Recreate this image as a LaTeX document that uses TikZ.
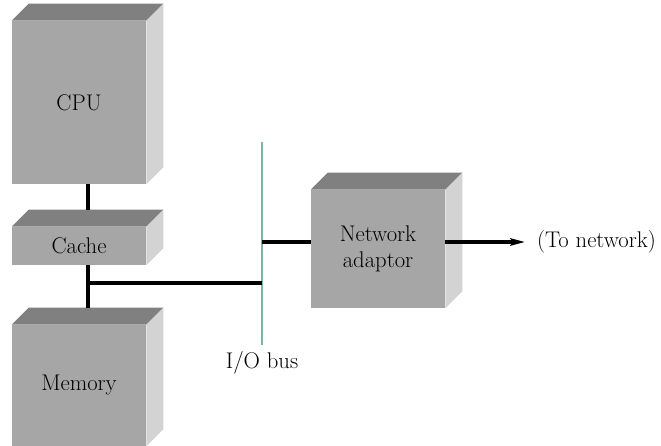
\documentclass[tikz,border=0pt]{standalone}
\usepackage{tikz}
\usetikzlibrary{arrows.meta}
\usetikzlibrary{positioning}

\definecolor{frontgray}{HTML}{A6A6A6}
\definecolor{topgray}{HTML}{808080}
\definecolor{sidegray}{HTML}{D3D3D3}
\definecolor{buscolor}{HTML}{7FB3A9}

\begin{document}
\begin{tikzpicture}[x=0.75pt,y=-0.75pt,
  font=\fontsize{17}{19.5}\selectfont,
  block/.style={fill=frontgray,inner sep=0pt,minimum width=100.5pt,align=center},
  wire/.style={line width=2.6pt},
  busline/.style={buscolor,line width=1.8pt}]
\clip (0,0) rectangle (661,446);

%front faces
\node[block,minimum height=122.25pt] (cpu) at (79,102.5) {CPU};
\node[block,minimum height=28.5pt] (cache) at (79,246) {Cache};
\node[block,minimum height=90.75pt] (mem) at (79,385.5) {Memory};
\node[block,minimum height=88.5pt] (na) at (378,249) {Network\\adaptor};
%top and side faces
\foreach \n in {cpu,cache,mem,na}{
  \fill[topgray] (\n.north west) -- ([shift={(12.75pt,12.75pt)}]\n.north west)
    -- ([shift={(12.75pt,12.75pt)}]\n.north east) -- (\n.north east) -- cycle;
  \fill[sidegray] (\n.north east) -- ([shift={(12.75pt,12.75pt)}]\n.north east)
    -- ([shift={(12.75pt,12.75pt)}]\n.south east) -- (\n.south east) -- cycle;
}

%bus
\coordinate (bustop) at (262,142);
\coordinate (busbot) at (262,345);
\draw[busline] (bustop) -- (busbot);
\node[below=1pt of busbot] (buslabel) {I/O bus};

%memory side
\draw[wire] ([xshift=6.75pt]cpu.south) -- ([xshift=6.75pt,yshift=12.75pt]cache.north);
\draw[wire] ([xshift=6.75pt]cache.south) -- ([xshift=6.75pt,yshift=12.75pt]mem.north);
\coordinate (tap) at (88,283);
\draw[wire] (tap) -- (tap -| bustop);

%network side
\coordinate (naL) at ([yshift=5.25pt]na.west);
\coordinate (naR) at ([yshift=5.25pt]na.east);
\coordinate (netout) at (525,242);
\draw[wire] (naL -| bustop) -- (naL);
\draw[wire,-{Stealth[length=11pt,width=5.5pt,inset=2pt]}] (naR) -- (netout);
\node[right=5.5pt of netout] (tonet) {(To network)};
\end{tikzpicture}
\end{document}
